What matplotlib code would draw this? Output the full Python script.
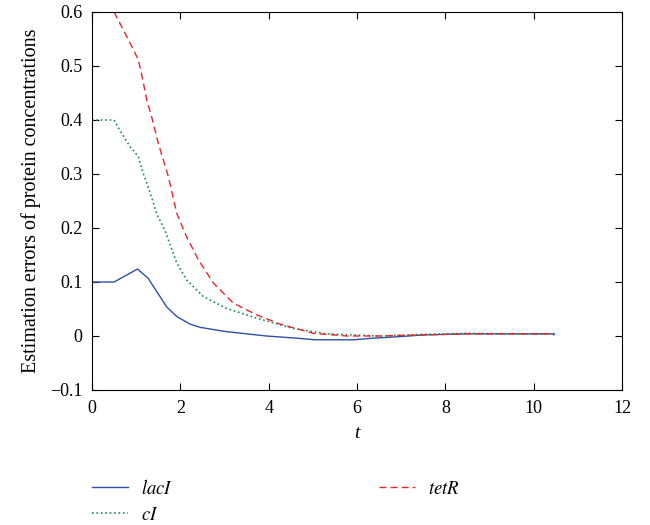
import numpy as np
import matplotlib
matplotlib.use('Agg')
import matplotlib.pyplot as plt

plt.rcParams['font.family'] = ['Liberation Serif', 'DejaVu Serif']
plt.rcParams['mathtext.fontset'] = 'stix'

# lacI estimation error
t_lac = [0, 0.5, 1.03, 1.27, 1.54, 1.69, 1.92, 2.22, 2.45, 3.05, 3.95, 4.63, 5.05,
         5.92, 6.37, 7.0, 7.5, 8.5, 9.5, 10.47]
e_lac = [0.1, 0.1, 0.124, 0.107, 0.073, 0.054, 0.036, 0.022, 0.016, 0.008, 0.0,
         -0.004, -0.007, -0.007, -0.004, -0.001, 0.002, 0.004, 0.004, 0.004]

# cI estimation error
t_ci = [0, 0.5, 0.63, 0.86, 1.05, 1.16, 1.27, 1.37, 1.46, 1.65, 1.92, 2.14, 2.52,
        3.05, 3.73, 4.56, 5.31, 6.52, 7.5, 8.5, 9.5, 10.47]
e_ci = [0.4, 0.4, 0.381, 0.351, 0.332, 0.301, 0.276, 0.252, 0.227, 0.196, 0.135,
        0.104, 0.073, 0.051, 0.033, 0.014, 0.004, 0.0, 0.003, 0.005, 0.004, 0.004]

# tetR estimation error
t_tet = [0, 0.5, 0.67, 0.94, 1.05, 1.12, 1.24, 1.35, 1.50, 1.73, 1.92, 2.14, 2.41,
         2.75, 3.2, 3.73, 4.26, 5.01, 5.77, 6.5, 7.5, 8.5, 10.3, 10.47]
e_tet = [0.6, 0.6, 0.573, 0.53, 0.511, 0.486, 0.437, 0.406, 0.357, 0.295, 0.227,
         0.184, 0.141, 0.098, 0.061, 0.039, 0.022, 0.005, 0.0, 0.0, 0.002, 0.004,
         0.004, 0.002]

fig = plt.figure(figsize=(6.5, 5.25), dpi=100)
ax = fig.add_axes([92/650, 1-390/525, 530/650, 378/525])

ax.plot(t_lac, e_lac, '-', color='#2e4fa3', lw=1.0, label='$\\it{lacI}$')
ax.plot(t_ci, e_ci, ':', color='#1e8c4e', lw=1.2, label='$\\it{cI}$')
ax.plot(t_tet, e_tet, '--', color='#e8262c', lw=1.0, dashes=(5, 3), label='$\\it{tetR}$')

ax.set_xlim(0, 12)
ax.set_ylim(-0.1, 0.6)
ax.set_xticks([0, 2, 4, 6, 8, 10, 12])
ax.set_yticks([-0.1, 0, 0.1, 0.2, 0.3, 0.4, 0.5, 0.6])
ax.set_yticklabels(['\u22120.1', '0', '0.1', '0.2', '0.3', '0.4', '0.5', '0.6'])
ax.tick_params(direction='in', top=True, right=True, labelsize=13, length=5, pad=7)
ax.set_xlabel('t', fontstyle='italic', fontsize=14, labelpad=6)
ax.set_ylabel('Estimation errors of protein concentrations', fontsize=14.5, labelpad=6)

ax.legend(loc='upper left', bbox_to_anchor=(-0.032, -0.19), ncol=2, frameon=False,
          fontsize=13.5, handlelength=1.9, handletextpad=0.7,
          columnspacing=11.0, labelspacing=0.47)

plt.savefig('out.png')
